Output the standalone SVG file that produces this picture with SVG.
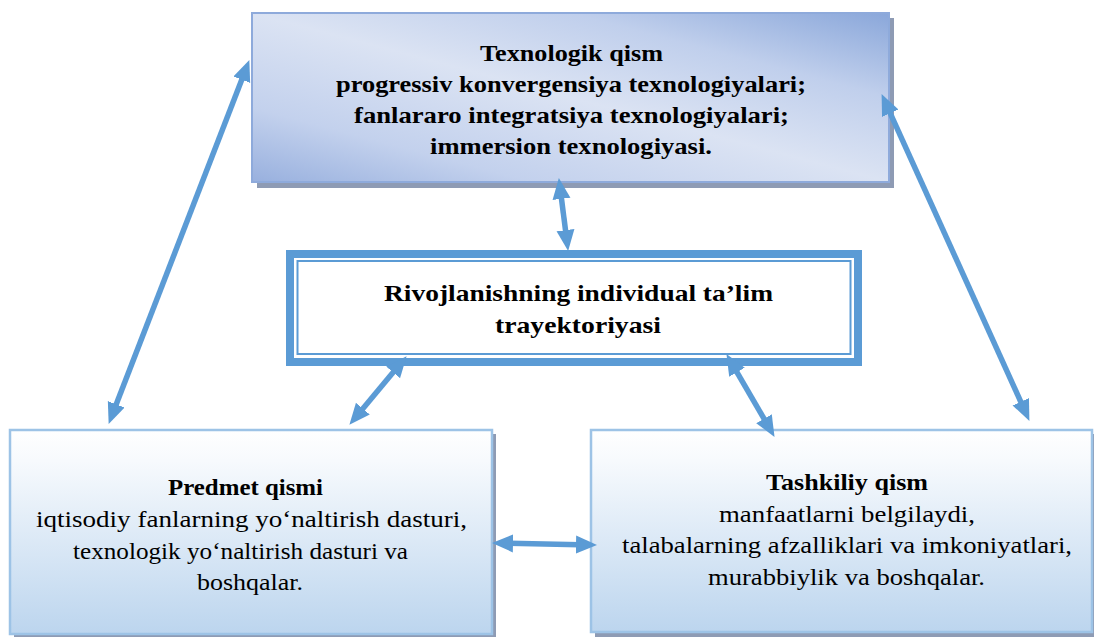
<svg xmlns="http://www.w3.org/2000/svg" width="1094" height="637" viewBox="0 0 1094 637">
<defs>
<linearGradient id="gTop" x1="0" y1="1" x2="1" y2="0">
<stop offset="0" stop-color="#98b0de"/>
<stop offset="0.22" stop-color="#c3d1ed"/>
<stop offset="0.5" stop-color="#dbe3f3"/>
<stop offset="0.75" stop-color="#c0cfec"/>
<stop offset="1" stop-color="#8aa7da"/>
</linearGradient>
<linearGradient id="gBot" x1="0" y1="0" x2="0" y2="1">
<stop offset="0" stop-color="#ffffff"/>
<stop offset="0.15" stop-color="#f7fafd"/>
<stop offset="1" stop-color="#bcd5ee"/>
</linearGradient>
<marker id="ah" markerUnits="userSpaceOnUse" markerWidth="22" markerHeight="20" refX="4" refY="10" orient="auto-start-reverse" viewBox="0 0 22 20">
<path d="M0,1 L21,10 L0,19 z" fill="#5b9bd5"/>
</marker>
<style>
.shadow{fill:#8e9bb4}
.top{fill:url(#gTop);stroke:#8eaadb;stroke-width:2}
.bot{fill:url(#gBot);stroke:#9dc3e6;stroke-width:2.5}
.conn{stroke:#5b9bd5;stroke-width:5.5;fill:none;marker-start:url(#ah);marker-end:url(#ah)}
text{font-family:'Liberation Serif','Times New Roman',serif;fill:#000;text-anchor:middle}
.b{font-weight:bold;font-size:23px}
.r{font-size:23px}
</style>
</defs>

<g id="node-texnologik">
<rect class="shadow" x="257" y="18" width="637" height="170"/>
<rect class="top" x="252" y="13" width="637" height="169"/>
<text class="b" x="571.5" y="61" textLength="183" lengthAdjust="spacingAndGlyphs">Texnologik qism</text>
<text class="b" x="571" y="92" textLength="470" lengthAdjust="spacingAndGlyphs">progressiv konvergensiya texnologiyalari;</text>
<text class="b" x="571.5" y="123" textLength="435" lengthAdjust="spacingAndGlyphs">fanlararo integratsiya texnologiyalari;</text>
<text class="b" x="571" y="154" textLength="282" lengthAdjust="spacingAndGlyphs">immersion texnologiyasi.</text>
</g>

<g id="node-trayektoriya">
<rect x="290" y="254" width="568" height="108" fill="#ffffff" stroke="#5b9bd5" stroke-width="8"/>
<rect x="297.5" y="261" width="553" height="93" fill="none" stroke="#5b9bd5" stroke-width="2"/>
<text class="b" x="578.5" y="301" textLength="389" lengthAdjust="spacingAndGlyphs">Rivojlanishning individual ta’lim</text>
<text class="b" x="578" y="333" textLength="166" lengthAdjust="spacingAndGlyphs">trayektoriyasi</text>
</g>

<g id="node-predmet">
<rect class="shadow" x="14" y="434" width="482" height="204"/>
<rect class="bot" x="10" y="430" width="482" height="204"/>
<text class="b" x="245.5" y="495" textLength="155" lengthAdjust="spacingAndGlyphs">Predmet qismi</text>
<text class="r" x="251.5" y="527" textLength="431" lengthAdjust="spacingAndGlyphs">iqtisodiy fanlarning yo‘naltirish dasturi,</text>
<text class="r" x="240.5" y="559" textLength="335" lengthAdjust="spacingAndGlyphs">texnologik yo‘naltirish dasturi va</text>
<text class="r" x="250" y="590" textLength="106" lengthAdjust="spacingAndGlyphs">boshqalar.</text>
</g>

<g id="node-tashkiliy">
<rect class="shadow" x="595" y="434" width="501" height="203"/>
<rect class="bot" x="591" y="430" width="501" height="202"/>
<text class="b" x="847" y="490" textLength="162" lengthAdjust="spacingAndGlyphs">Tashkiliy qism</text>
<text class="r" x="847" y="522" textLength="256" lengthAdjust="spacingAndGlyphs">manfaatlarni belgilaydi,</text>
<text class="r" x="847" y="553" textLength="450" lengthAdjust="spacingAndGlyphs">talabalarning afzalliklari va imkoniyatlari,</text>
<text class="r" x="846.5" y="585" textLength="277" lengthAdjust="spacingAndGlyphs">murabbiylik va boshqalar.</text>
</g>

<g id="connectors">
<path class="conn" d="M243.2,75.9 L114.8,408.1"/>
<path class="conn" d="M888.6,109.6 L1022.4,405.4"/>
<path class="conn" d="M561,194.9 L566,234.1"/>
<path class="conn" d="M395.7,369.3 L360.3,411.7"/>
<path class="conn" d="M735,368.8 L766,422.2"/>
<path class="conn" d="M509,543.3 L580,544.7"/>
</g>
</svg>
